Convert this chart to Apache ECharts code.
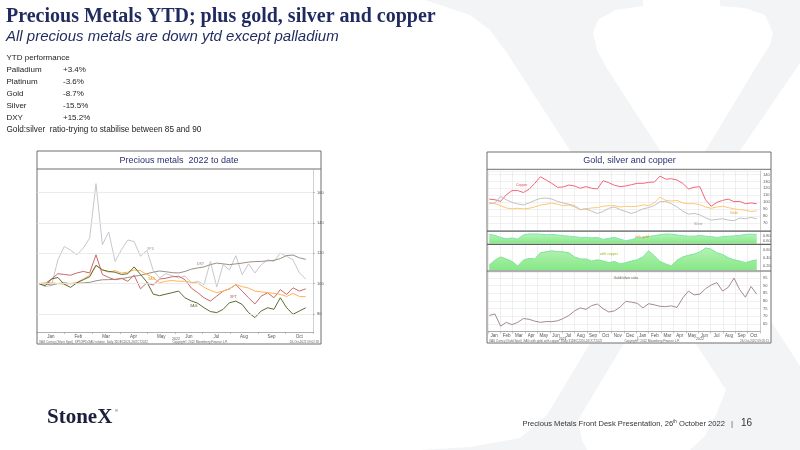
<!DOCTYPE html>
<html>
<head>
<meta charset="utf-8">
<title>Precious Metals YTD</title>
<script src="https://cdn.jsdelivr.net/npm/echarts@6.0.0/dist/echarts.min.js"></script>
<style>
  html, body { margin: 0; padding: 0; background: #fff; }
  #slide { width: 800px; height: 450px; }
</style>
</head>
<body>
<div id="slide"></div>
<script>
// ---- left chart: weekly closes rebased to 100, 2022 to date ----
var leftMonths = ['Jan', 'Feb', 'Mar', 'Apr', 'May', 'Jun', 'Jul', 'Aug', 'Sep', 'Oct'];
var leftTicks = [80, 100, 120, 140, 160];
var leftStart = '2022-01-03';
var palladium = [100, 98, 98.7, 115.7, 124.5, 122, 119, 123.4, 130, 166, 125.6, 134, 114.6, 122.3, 128.8, 127.7, 118, 122, 108.7, 103.7, 106.5, 105.2, 103.7, 105, 100.4, 101.5, 99.3, 114.6, 97.8, 112.4, 109, 118.4, 105.9, 113, 107, 112.4, 115.7, 114.6, 120.1, 118, 115.7, 107, 103];
var dxy = [100, 99.8, 99, 100, 100.5, 99.9, 100.2, 100.4, 100.8, 101.8, 102.5, 102.6, 102.8, 103.2, 104, 104.8, 105.5, 106.5, 107.5, 108.3, 107.8, 107.2, 107, 108, 109.5, 110.3, 111, 112.5, 113.5, 113, 112.5, 113, 113.5, 114.2, 114.5, 114.6, 115, 115.3, 116.5, 118.5, 118.8, 117, 116];
var platinum = [100, 100, 103, 106.5, 106, 105.5, 107, 108, 107, 119, 106, 104, 102.5, 103.5, 101.5, 105.5, 96.5, 100.5, 99, 103, 103.5, 104.5, 104.8, 102.6, 97, 94, 90.6, 88.4, 91.7, 95, 96.5, 99.3, 95, 90.6, 86.5, 91.7, 93.9, 90.6, 96, 92.8, 97.2, 95, 96.5];
var gold = [100, 100.5, 100.5, 100, 99.5, 100, 100.8, 103, 105.5, 112, 109, 107.5, 108.5, 107, 107.5, 109, 108.5, 106, 104, 100.5, 101.5, 102, 101.5, 101.5, 100.8, 100.4, 97.5, 95.5, 94, 95, 96.5, 99.3, 98, 97, 95, 94.5, 94, 93.5, 92.8, 91.5, 93.5, 91.5, 91.3];
var silver = [100, 98.5, 103, 104, 99.5, 97.5, 100.5, 102.5, 104.5, 112, 109, 108, 107.5, 106, 106.5, 111, 106, 101, 93, 92, 93, 94, 95, 90.6, 88.5, 87, 84, 81.5, 80.8, 83, 87.3, 88.4, 86.2, 80.8, 77.5, 81.9, 84, 83, 90.6, 84, 79.7, 81.9, 84];

// ---- right chart: fortnightly points, Jan 2021 to Oct 2022 ----
var rightMonths = ['Jan', 'Feb', 'Mar', 'Apr', 'May', 'Jun', 'Jul', 'Aug', 'Sep', 'Oct', 'Nov', 'Dec',
                   'Jan', 'Feb', 'Mar', 'Apr', 'May', 'Jun', 'Jul', 'Aug', 'Sep', 'Oct'];
var rightStart = '2021-01-04';
var copperR = [104.5, 103.6, 101.2, 110.7, 116.8, 116.8, 114, 118.7, 127.2, 136.7, 132, 127.2, 121.5, 122, 124.8, 123.4, 120.1, 122.5, 120.1, 119.2, 131, 128.2, 124.4, 122.5, 123.4, 125.3, 127.2, 127.2, 128.6, 129.1, 137.6, 133.3, 133.8, 132, 127.2, 119.2, 121.5, 122.5, 103.6, 94.2, 99.8, 102.7, 104.5, 100.8, 101.2, 97.9, 98.9, 97.9];
var goldR = [99.8, 97.9, 95.1, 91.8, 90.4, 91.3, 90.4, 91.3, 93.2, 96.1, 97, 98.9, 97, 95.1, 96.1, 93.2, 89.4, 90.4, 91.8, 92.3, 94.2, 95.1, 95.1, 93.2, 94.2, 93.7, 94.2, 96.1, 95.1, 98.9, 107.4, 102.7, 101.7, 102.7, 98.9, 97.9, 97.9, 96.5, 93.2, 91.3, 93.2, 94.2, 92.3, 90.4, 89.4, 88.5, 86.6, 87.6];
var silverR = [97.9, 98.9, 108.3, 103.6, 99.8, 97.5, 96.1, 98.9, 102.7, 105.5, 106, 104.6, 101.2, 98.9, 97, 95.1, 89.4, 90.4, 87.1, 83.8, 86.6, 91.3, 93.2, 89.4, 86.6, 83.8, 86.6, 90.4, 92.3, 95.1, 100.8, 101.2, 97.9, 93.2, 87.1, 82.8, 83.8, 81.9, 77.6, 74.3, 75.3, 76.2, 74.3, 73.4, 77.2, 76.2, 78.1, 76.2];
var corrGold = [0.87, 0.835, 0.75, 0.69, 0.73, 0.68, 0.85, 0.89, 0.89, 0.88, 0.86, 0.87, 0.85, 0.82, 0.80, 0.78, 0.75, 0.75, 0.73, 0.75, 0.67, 0.71, 0.75, 0.68, 0.61, 0.66, 0.72, 0.74, 0.79, 0.82, 0.86, 0.89, 0.88, 0.85, 0.82, 0.80, 0.80, 0.83, 0.80, 0.78, 0.75, 0.78, 0.80, 0.81, 0.83, 0.87, 0.88, 0.87];
var corrCopper = [0.22, 0.34, 0.42, 0.37, 0.31, 0.20, 0.34, 0.385, 0.37, 0.52, 0.545, 0.57, 0.55, 0.545, 0.52, 0.42, 0.37, 0.37, 0.32, 0.35, 0.32, 0.28, 0.31, 0.25, 0.28, 0.32, 0.35, 0.42, 0.57, 0.45, 0.31, 0.25, 0.20, 0.34, 0.42, 0.46, 0.49, 0.54, 0.64, 0.61, 0.52, 0.48, 0.40, 0.35, 0.32, 0.28, 0.32, 0.35];
var gsRatio = [70.5, 71.5, 63.5, 66, 64.5, 66, 68.5, 68, 66.8, 66, 66.5, 66.5, 67, 68.5, 70.5, 73.5, 75.5, 74.5, 77, 78, 75, 72.8, 73.5, 76, 79.8, 79.2, 78.5, 75.5, 78.2, 77.5, 76.5, 76.3, 76.8, 75.8, 82, 86.5, 84, 84.5, 88, 90.5, 92, 86.5, 89, 95, 87.5, 82.5, 89.5, 84.5];

// ---- slide text ----
var ytdRows = [['Palladium', '+3.4%'], ['Platinum', '-3.6%'], ['Gold', '-8.7%'], ['Silver', '-15.5%'], ['DXY', '+15.2%']];

function sampleDates(start, count, stepDays) {
  var p = start.split('-');
  var t0 = Date.UTC(+p[0], +p[1] - 1, +p[2]);
  var out = [];
  for (var i = 0; i < count; i++) {
    var d = new Date(t0 + i * stepDays * 86400000);
    var m = d.getUTCMonth() + 1, day = d.getUTCDate();
    out.push(d.getUTCFullYear() + '-' + (m < 10 ? '0' : '') + m + '-' + (day < 10 ? '0' : '') + day);
  }
  return out;
}
var leftDates = sampleDates(leftStart, palladium.length, 7);
var rightDates = sampleDates(rightStart, copperR.length, 14);

function pairs(dates, vals) {
  return vals.map(function (v, i) { return [dates[i], v]; });
}

var FONT = '"Liberation Sans", Arial, sans-serif';
var SERIF = '"Liberation Serif", "Times New Roman", serif';
var NAVY = '#1f2a5e';

// grid 0 = left chart, grids 1-4 = right chart panels
var grids = [
  {left: 37, top: 170, width: 276, height: 162},
  {left: 488, top: 171, width: 272, height: 59},
  {left: 488, top: 232.5, width: 272, height: 11},
  {left: 488, top: 245.5, width: 272, height: 24.5},
  {left: 488, top: 272, width: 272, height: 59.5}
];

var xAxes = [];
grids.forEach(function (g, i) {
  var labelled = (i === 0 || i === 4);
  xAxes.push({
    type: 'category', gridIndex: i, data: i === 0 ? leftMonths : rightMonths,
    boundaryGap: true,
    axisLine: {show: labelled, lineStyle: {color: '#9a9a9a', width: 0.8}},
    axisTick: {show: labelled, length: 2, interval: 0, lineStyle: {color: '#9a9a9a', width: 0.6}},
    axisLabel: {show: labelled, interval: 0, fontSize: 4.5, color: '#555', margin: 2, fontFamily: FONT},
    splitLine: {show: i > 0, interval: 0, lineStyle: {color: '#e4e4e4', width: 0.6}}
  });
  xAxes.push({
    type: 'time', gridIndex: i, show: false,
    min: i === 0 ? '2022-01-01' : '2021-01-01',
    max: '2022-11-01'
  });
});

function rightLabel(show) {
  return {fontSize: 4, color: '#555', margin: 3, fontFamily: FONT, formatter: function (v) {
    return show(v);
  }};
}

var yAxes = [
  {
    type: 'value', gridIndex: 0, position: 'right', min: 68, max: 175,
    axisLine: {show: true, lineStyle: {color: '#c4c4c4', width: 0.8}},
    axisTick: {show: true, length: 2, customValues: leftTicks, lineStyle: {color: '#999', width: 0.6}},
    axisLabel: {fontSize: 4, color: '#555', margin: 4, fontFamily: FONT, customValues: leftTicks},
    splitLine: {show: false}
  },
  {
    type: 'value', gridIndex: 1, position: 'right', min: 60, max: 145, interval: 10,
    axisLine: {show: true, lineStyle: {color: '#c4c4c4', width: 0.8}},
    axisTick: {show: false},
    axisLabel: rightLabel(function (v) { return (v >= 70 && v <= 140) ? String(v) : ''; }),
    splitLine: {lineStyle: {color: '#e8e8e8', width: 0.6}}
  },
  {
    type: 'value', gridIndex: 2, position: 'right', min: 0.5, max: 0.95, interval: 0.1,
    axisLine: {show: true, lineStyle: {color: '#c4c4c4', width: 0.8}},
    axisTick: {show: false},
    axisLabel: rightLabel(function (v) { var r = Math.round(v * 100); return (r === 60 || r === 80) ? (r / 100).toFixed(2) : ''; }),
    splitLine: {show: false}
  },
  {
    type: 'value', gridIndex: 3, position: 'right', min: 0.1, max: 0.7, interval: 0.1,
    axisLine: {show: true, lineStyle: {color: '#c4c4c4', width: 0.8}},
    axisTick: {show: false},
    axisLabel: rightLabel(function (v) { var r = Math.round(v * 100); return (r === 20 || r === 40 || r === 60) ? (r / 100).toFixed(2) : ''; }),
    splitLine: {show: false}
  },
  {
    type: 'value', gridIndex: 4, position: 'right', min: 60, max: 99, interval: 5,
    axisLine: {show: true, lineStyle: {color: '#c4c4c4', width: 0.8}},
    axisTick: {show: false},
    axisLabel: rightLabel(function (v) { return (v >= 65 && v <= 95) ? String(v) : ''; }),
    splitLine: {lineStyle: {color: '#e8e8e8', width: 0.6}}
  }
];

function line(name, dates, vals, xi, yi, color, extra) {
  var s = {
    name: name, type: 'line', xAxisIndex: xi, yAxisIndex: yi,
    data: pairs(dates, vals), showSymbol: false, symbol: 'none',
    lineStyle: {color: color, width: 1}, silent: true, animation: false
  };
  for (var k in extra) s[k] = extra[k];
  return s;
}

var greenFill = new echarts.graphic.LinearGradient(0, 0, 0, 1, [
  {offset: 0, color: '#b6f3b6'}, {offset: 1, color: '#86e886'}
]);

var series = [
  line('Palladium', leftDates, palladium, 1, 0, '#c6c8ce', {
    z: 1,
    markLine: {
      silent: true, symbol: ['none', 'none'], label: {show: false},
      lineStyle: {color: '#e6e6e6', width: 0.8, type: 'solid'},
      data: leftTicks.map(function (v) { return {yAxis: v}; })
    }
  }),
  line('DXY', leftDates, dxy, 1, 0, '#9d8f82'),
  line('Platinum', leftDates, platinum, 1, 0, '#c96a6a'),
  line('Gold', leftDates, gold, 1, 0, '#ffb553'),
  line('Silver', leftDates, silver, 1, 0, '#5a6b32'),

  line('Copper', rightDates, copperR, 3, 1, '#f2677a'),
  line('Gold', rightDates, goldR, 3, 1, '#ffc773'),
  line('Silver', rightDates, silverR, 3, 1, '#c2c2c2'),
  line('with gold', rightDates, corrGold, 5, 2, '#7fe3b8', {areaStyle: {color: greenFill, opacity: 1, origin: 'start'}}),
  line('with copper', rightDates, corrCopper, 7, 3, '#7fe39a', {areaStyle: {color: greenFill, opacity: 1, origin: 'start'}}),
  line('Gold/silver ratio', rightDates, gsRatio, 9, 4, '#a58a92')
];

function txt(text, x, y, size, color, opts) {
  var st = {text: text, fontSize: size, fontFamily: FONT, fill: color, align: 'left', verticalAlign: 'middle'};
  for (var k in opts) st[k] = opts[k];
  return {type: 'text', x: x, y: y, z: 20, silent: true, style: st};
}

// big serif X of the StoneX logo, faint, behind the right chart
var WM = '#f3f4f6';
var thickStroke = [[425, 0], [643, 0], [643, 6], [615, 10], [598, 20], [593, 33], [597, 50], [606, 67],
  [663, 155], [800, 366], [800, 450], [690, 450], [705, 436], [716, 415], [726, 390],
  [573, 155], [507, 53], [490, 30], [470, 15], [443, 6]];
var thinStroke = [[720, 0], [800, 0], [800, 63], [737, 155], [578, 420], [582, 440], [587, 450],
  [420, 450], [470, 447], [520, 438], [547, 415], [703, 155], [756, 67], [770, 45], [773, 33],
  [765, 15], [745, 8], [720, 6]];

var graphics = [
  {type: 'polygon', z: -10, silent: true, shape: {points: thickStroke}, style: {fill: WM}},
  {type: 'polygon', z: -10, silent: true, shape: {points: thinStroke}, style: {fill: WM}},

  // chart boxes
  {type: 'rect', z: -5, silent: true, shape: {x: 37, y: 151, width: 284, height: 193}, style: {fill: '#fff', stroke: '#6e6e6e', lineWidth: 1}},
  {type: 'line', z: 5, silent: true, shape: {x1: 37, y1: 169, x2: 321, y2: 169}, style: {stroke: '#6e6e6e', lineWidth: 1}},
  {type: 'rect', z: -5, silent: true, shape: {x: 487, y: 152, width: 284, height: 191}, style: {fill: '#fff', stroke: '#6e6e6e', lineWidth: 1}},
  {type: 'line', z: 5, silent: true, shape: {x1: 487, y1: 169.3, x2: 771, y2: 169.3}, style: {stroke: '#6e6e6e', lineWidth: 1}},
  {type: 'line', z: 5, silent: true, shape: {x1: 487, y1: 231.2, x2: 771, y2: 231.2}, style: {stroke: '#5e5e5e', lineWidth: 1.2}},
  {type: 'line', z: 5, silent: true, shape: {x1: 487, y1: 244.4, x2: 771, y2: 244.4}, style: {stroke: '#5e5e5e', lineWidth: 1.2}},
  {type: 'line', z: 5, silent: true, shape: {x1: 487, y1: 271, x2: 771, y2: 271}, style: {stroke: '#5e5e5e', lineWidth: 1.2}},
  {type: 'line', z: 5, silent: true, shape: {x1: 637.7, y1: 336, x2: 637.7, y2: 340.5}, style: {stroke: '#999', lineWidth: 0.6}},

  // chart titles
  txt('Precious metals  2022 to date', 179, 160.5, 9, '#2b3170', {align: 'center'}),
  txt('Gold, silver and copper', 629.5, 161, 9, '#2b3170', {align: 'center'}),

  // series annotations, left chart
  txt('XPD', 147, 249.5, 3.5, '#9a9ca4'),
  txt('DXY', 197, 264, 3.5, '#8a7a6c'),
  txt('XAU', 148, 279.5, 3.5, '#e89a3a'),
  txt('XPT', 230, 297, 3.5, '#b05050'),
  txt('XAG', 190, 306, 3.5, '#4f5f2a'),
  txt('2022', 176, 339.3, 3.5, '#555', {align: 'center'}),

  // series annotations, right chart
  txt('Copper', 516, 184.7, 3.5, '#e5475c'),
  txt('Gold', 730, 213.3, 3.5, '#e89a30'),
  txt('Silver', 694, 224, 3.5, '#999'),
  txt('with gold', 635, 236.8, 3.5, '#d39a20'),
  txt('with copper', 600, 254, 3.5, '#9cb81c'),
  txt('Gold/silver ratio', 626, 278.3, 3.5, '#5a6a4a', {align: 'center'}),
  txt('2021', 562.7, 338.6, 3.5, '#555', {align: 'center'}),
  txt('2022', 700, 338.6, 3.5, '#555', {align: 'center'}),

  // bloomberg footers
  txt('XAG Curncy (Silver Spot)  XPT/XPD/XAU relative  Daily 31DEC2021-26OCT2022', 39, 342, 3, '#666'),
  txt('Copyright\u00a9 2022 Bloomberg Finance L.P.', 200, 342, 3, '#666', {align: 'center'}),
  txt('26-Oct-2022 09:02:33', 319, 342, 3, '#666', {align: 'right'}),
  txt('XAU Curncy (Gold Spot)  XAG with gold, with copper  Daily 31DEC2020-26OCT2022', 489, 341.5, 3, '#666'),
  txt('Copyright\u00a9 2022 Bloomberg Finance L.P.', 652, 341.5, 3, '#666', {align: 'center'}),
  txt('26-Oct-2022 09:05:11', 769, 341.5, 3, '#666', {align: 'right'}),

  // slide headings
  txt('Precious Metals YTD; plus gold, silver and copper', 6, 17, 20, NAVY, {fontFamily: SERIF, fontWeight: 'bold'}),
  txt('All precious metals are down ytd except palladium', 6, 36.5, 15, NAVY, {fontStyle: 'italic'}),
  txt('YTD performance', 6.5, 58, 8, '#222'),
  txt('Gold:silver  ratio-trying to stabilise between 85 and 90', 6.5, 129.7, 8.2, '#222'),

  // footer
  txt('StoneX', 47, 418, 21, '#1b1f3b', {fontFamily: SERIF, fontWeight: 'bold'}),
  txt('\u00ae', 115, 411, 4, '#1b1f3b'),
  {type: 'text', x: 725, y: 423.5, z: 20, silent: true, style: {
    text: '{a|Precious Metals Front Desk Presentation, 26}{s|th}{a| October 2022}',
    align: 'right', verticalAlign: 'middle',
    rich: {
      a: {fontSize: 7.6, fontFamily: FONT, fill: '#333'},
      s: {fontSize: 4.5, fontFamily: FONT, fill: '#333', verticalAlign: 'top'}
    }
  }},
  txt('|', 731, 423.5, 8, '#555'),
  txt('16', 741, 423.5, 10, '#333')
];

ytdRows.forEach(function (r, i) {
  var y = 70 + i * 11.9;
  graphics.push(txt(r[0], 6.5, y, 8, '#222'));
  graphics.push(txt(r[1], 63, y, 8, '#222'));
});

var chart = echarts.init(document.getElementById('slide'), null, {renderer: 'canvas'});
chart.setOption({
  backgroundColor: '#ffffff',
  animation: false,
  textStyle: {fontFamily: FONT},
  grid: grids,
  xAxis: xAxes,
  yAxis: yAxes,
  series: series,
  graphic: graphics
});
</script>
</body>
</html>
